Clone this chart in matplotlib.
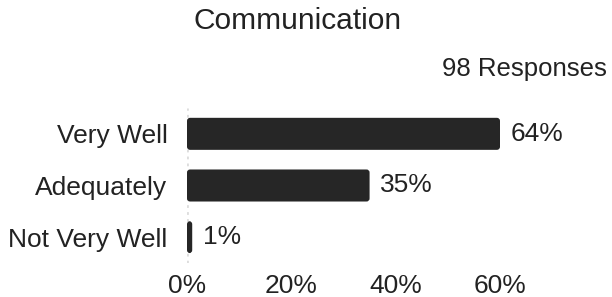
import matplotlib
matplotlib.use("Agg")
import matplotlib.pyplot as plt
from matplotlib.patches import FancyBboxPatch

# data
categories = ["Very Well", "Adequately", "Not Very Well"]
percents = [64, 35, 1]
value_labels = ["64%", "35%", "1%"]
xticks = [0, 20, 40, 60]
xtick_labels = ["0%", "20%", "40%", "60%"]
title = "Communication"
subtitle = "98 Responses"

plt.rcParams["font.family"] = ["Liberation Sans", "DejaVu Sans"]
txt = "#222222"

fig = plt.figure(figsize=(6.12, 2.97), dpi=100)
ax = fig.add_axes([187 / 612, 34 / 297, (500 - 187) / 612, (189 - 34) / 297])

xmax = xticks[-1]
shown = [min(v, xmax) for v in percents]
bars = ax.barh(range(len(categories)), shown, height=0.62, color="#262626")
# swap the plain rectangles for slightly rounded ones
for b in bars:
    bb = FancyBboxPatch((b.get_x(), b.get_y()), b.get_width(), b.get_height(),
                        boxstyle="round,pad=0,rounding_size=0.6",
                        mutation_aspect=0.1, color="#262626", lw=0)
    ax.add_patch(bb)
    b.remove()
ax.set_xlim(0, xmax)
ax.set_ylim(len(categories) - 0.5, -0.5)

for i, (v, lab) in enumerate(zip(shown, value_labels)):
    ax.text(v + 2.0, i, lab, va="center", ha="left",
            fontsize=19, color=txt, clip_on=False)

ax.axvline(0, color="#dddddd", lw=2, linestyle=(0, (1, 1.5)), zorder=0)

ax.set_yticks(range(len(categories)))
ax.set_yticklabels(categories, fontsize=19, color=txt)
ax.set_xticks(xticks)
ax.set_xticklabels(xtick_labels, fontsize=19, color=txt)
ax.tick_params(length=0)
ax.tick_params(axis="y", pad=14)
ax.tick_params(axis="x", pad=8)
for s in ax.spines.values():
    s.set_visible(False)

fig.text(298 / 612, 1 - 29 / 297, title, ha="center", va="baseline",
         fontsize=21.5, color=txt)
fig.text(607 / 612, 1 - 76 / 297, subtitle, ha="right", va="baseline",
         fontsize=18.5, color=txt)

fig.savefig("out.png", dpi=100, facecolor="white")
